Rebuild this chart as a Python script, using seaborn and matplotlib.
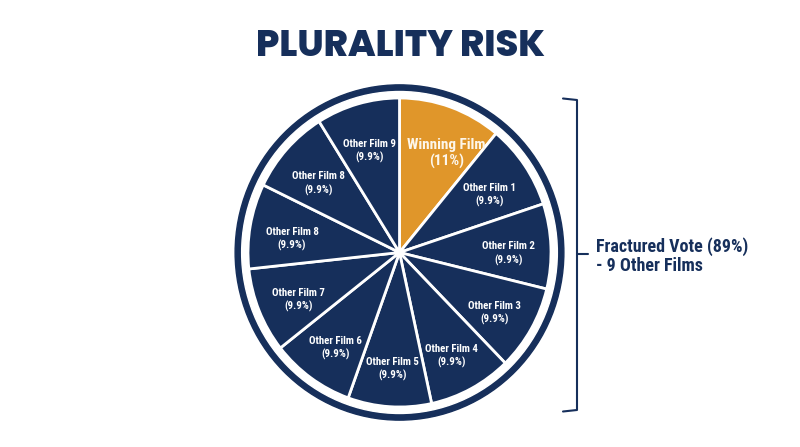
import matplotlib
matplotlib.use("Agg")
import matplotlib.pyplot as plt
import seaborn as sns
import numpy as np
from matplotlib.patches import Ellipse

sns.set_theme(style="white")
plt.rcParams['font.family'] = ['Roboto Condensed', 'DejaVu Sans']

# ---- data ----
categories = ["Winning Film", "Other Film 1", "Other Film 2", "Other Film 3", "Other Film 4",
              "Other Film 5", "Other Film 6", "Other Film 7", "Other Film 8", "Other Film 8",
              "Other Film 9"]
# slice sizes as drawn (winning 11%, the rest split evenly)
values = [11, 8.9, 8.9, 8.9, 8.9, 8.9, 8.9, 8.9, 8.9, 8.9, 8.9]
pct_labels = ["11%"] + ["9.9%"] * 10
title = "PLURALITY RISK"
side_text = "Fractured Vote (89%)\n- 9 Other Films"

NAVY = "#162f5b"
ORANGE = "#e0962a"
colors = [ORANGE] + [NAVY] * 10

W, H = 800, 447
fig = plt.figure(figsize=(8, 4.47), dpi=100)

# --- pie axes (slightly narrower horizontally, as in the reference) ---
cxp, cyp = 399.5, H - 252.5          # centre in pixels (from bottom)
rx, ry = 151.5, 154.5                # pie radius in pixels
lim = 1.1
axw, axh = 2 * lim * rx, 2 * lim * ry
pax = fig.add_axes([(cxp - axw / 2) / W, (cyp - axh / 2) / H, axw / W, axh / H])

pax.add_patch(Ellipse((0, 0), 2 * 1.085, 2 * 1.085, color=NAVY, zorder=0))
pax.add_patch(Ellipse((0, 0), 2 * 1.042, 2 * 1.042, color="white", zorder=0))
wedges, _ = pax.pie(values, colors=colors, startangle=90, counterclock=False,
                    radius=1, frame=True,
                    wedgeprops=dict(edgecolor="white", linewidth=2.0))
pax.set_aspect('auto')
pax.set_xlim(-lim, lim)
pax.set_ylim(-lim, lim)
pax.axis('off')

for i, w in enumerate(wedges):
    mid = (w.theta1 + w.theta2) / 2
    if i == 0:
        a, r = np.deg2rad(mid - 5), 0.74
        x, y = r * np.cos(a), r * np.sin(a) - 0.03
        pax.text(x, y, f"{categories[i]}\n({pct_labels[i]})", ha="center", va="center",
                 fontsize=11, fontweight="bold", color="#fdf6ea", linespacing=1.15)
    else:
        a, r = np.deg2rad(mid), 0.72
        x, y = r * np.cos(a), r * np.sin(a) - 0.035
        pax.text(x, y, f"{categories[i]}\n({pct_labels[i]})", ha="center", va="center",
                 fontsize=7.8, fontweight="bold", color="white", linespacing=1.35)

# --- overlay axes in pixel coordinates ---
ax = fig.add_axes([0, 0, 1, 1])
ax.set_xlim(0, W)
ax.set_ylim(0, H)
ax.axis('off')

ax.text(400, H - 47, title, ha="center", va="center", fontsize=26.5,
        fontweight=800, color=NAVY, family=["Poppins", "Lato", "DejaVu Sans"])

bx = 577
ytop, ybot, ymid = H - 100, H - 410, H - 254
ax.plot([563, bx, bx, 563], [ytop + 1.5, ytop, ybot, ybot - 1.5], color=NAVY, lw=1.5,
        solid_joinstyle="round")
ax.plot([bx, 588], [ymid, ymid], color=NAVY, lw=1.5)
ax.text(596, H - 256, side_text, ha="left", va="center", fontsize=13,
        fontweight="bold", color=NAVY, linespacing=1.05)

fig.savefig("out.png", dpi=100, facecolor="white")
